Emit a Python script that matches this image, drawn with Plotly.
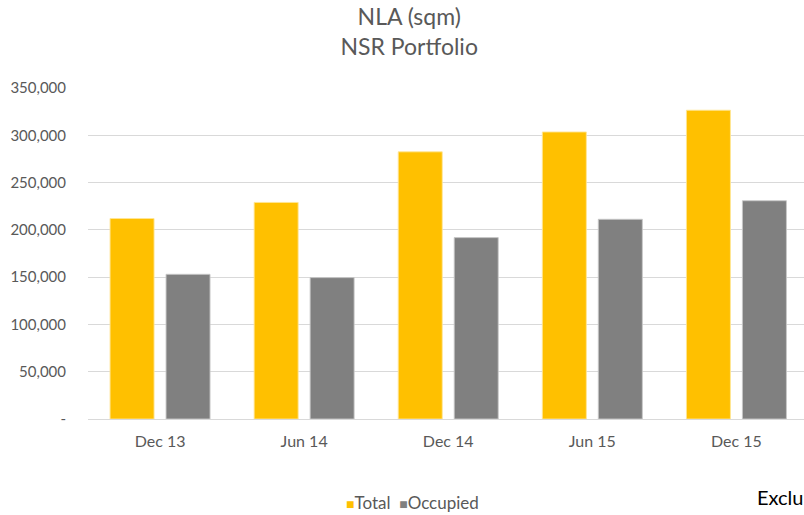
import plotly.graph_objects as go

categories = ["Dec 13", "Jun 14", "Dec 14", "Jun 15", "Dec 15"]
total = [212000, 229000, 282500, 303500, 326500]
occupied = [153000, 149500, 191800, 211200, 230800]
ytick_vals = [0, 50000, 100000, 150000, 200000, 250000, 300000, 350000]
ytick_text = ["-", "50,000", "100,000", "150,000", "200,000", "250,000", "300,000", "350,000"]
series_names = ["Total", "Occupied"]
series_colors = ["#FFC000", "#808080"]

FONT = "Lato"
TXT = "#595959"

fig = go.Figure()
fig.add_trace(go.Bar(name=series_names[0], x=categories, y=total, marker_color=series_colors[0],
                     marker_line=dict(color="rgba(255,230,150,0.9)", width=1), showlegend=False))
fig.add_trace(go.Bar(name=series_names[1], x=categories, y=occupied, marker_color=series_colors[1],
                     marker_line=dict(color="rgba(200,200,200,0.9)", width=1), showlegend=False))

legend_text = "".join(
    f"<span style='color:{c};font-size:14px'>■</span>{n}" + ("  " if i == 0 else "")
    for i, (n, c) in enumerate(zip(series_names, series_colors))
)

fig.update_layout(
    width=804, height=515,
    margin=dict(l=88, r=0, t=88, b=96, autoexpand=False),
    paper_bgcolor="white", plot_bgcolor="white",
    font=dict(family=FONT, color=TXT, size=15),
    title=dict(text="NLA (sqm)<br>NSR Portfolio", x=0.509, xref="container", xanchor="center",
               y=0.951, yref="container", yanchor="top", automargin=False,
               font=dict(family=FONT, size=23, color=TXT)),
    barmode="group", bargap=0.223, bargroupgap=0.214,
    xaxis=dict(showgrid=False, showline=True, linecolor="#D9D9D9", linewidth=1,
               ticks="", range=[-0.5, 4.469], tickfont=dict(size=16, color=TXT),
               ticklabelstandoff=8, automargin=False),
    yaxis=dict(range=[0, 350000], tickvals=ytick_vals, ticktext=ytick_text,
               showgrid=True, gridcolor="#D9D9D9", gridwidth=1, zeroline=False,
               showline=False, ticks="", tickfont=dict(size=15, color=TXT),
               ticklabelstandoff=21, automargin=False),
    annotations=[
        dict(text=legend_text, xref="paper", yref="paper", x=(412.5 - 88) / 716, y=(419 - 502) / 331,
             xanchor="center", yanchor="middle", showarrow=False,
             font=dict(family=FONT, size=17, color=TXT)),
        dict(text="Exclu", xref="paper", yref="paper", x=(755 - 88) / 716, y=(419 - 497) / 331,
             xanchor="left", yanchor="middle", showarrow=False,
             font=dict(family=FONT, size=20, color="#000000")),
    ],
)

fig.write_html("out.html", config={"displayModeBar": False},
               post_script="document.body.style.margin='0';document.body.style.overflow='hidden';")
